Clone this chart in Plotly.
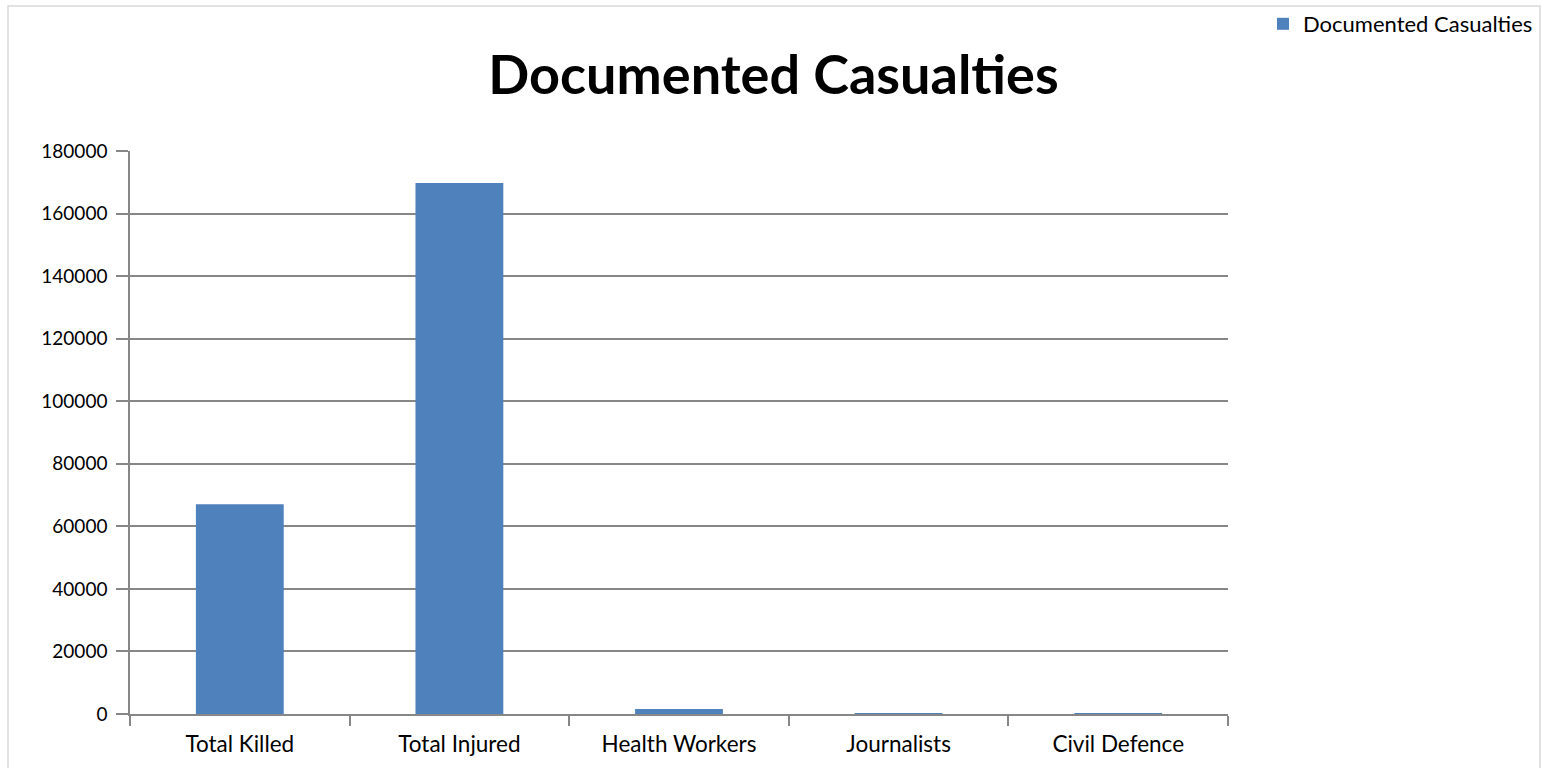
import plotly.graph_objects as go

categories = ["Total Killed", "Total Injured", "Health Workers", "Journalists", "Civil Defence"]
values = [67100, 169800, 1580, 250, 140]
series_name = "Documented Casualties"
y_ticks = [0, 20000, 40000, 60000, 80000, 100000, 120000, 140000, 160000, 180000]

W, H = 1541, 768
L, R, T, B = 130, 1228, 151, 714
pw, ph = R - L, B - T

fig = go.Figure()
fig.add_trace(go.Bar(x=categories, y=values, name=series_name,
                     marker=dict(color="#4F81BD", line=dict(width=0))))

def px_x(p):
    return (p - L) / pw

def px_y(p):
    return (B - p) / ph

FONT = "Lato"
GRAY = "#878787"

fig.update_layout(
    width=W, height=H,
    margin=dict(l=L, r=W - R, t=T, b=H - B),
    paper_bgcolor="white", plot_bgcolor="white",
    font=dict(family=FONT, size=19, color="black"),
    title=dict(text="<b>Documented Casualties</b>", font=dict(family=FONT, size=54, color="black"),
               x=773.5 / W, xref="container", xanchor="center",
               y=1 - 75 / H, yref="container", yanchor="middle"),
    bargap=0.6,
    showlegend=True,
    legend=dict(x=1263 / W, xref="container", xanchor="left",
                y=1 - 3 / H, yref="container", yanchor="top",
                font=dict(family=FONT, size=22, color="black"),
                bgcolor="rgba(0,0,0,0)"),
    xaxis=dict(type="category", tickson="boundaries", ticks="outside", ticklen=10,
               tickwidth=1.5, tickcolor=GRAY, showline=True, linecolor=GRAY, linewidth=1.5,
               showgrid=False, tickfont=dict(family=FONT, size=22.5, color="black"),
               ticklabelstandoff=9, fixedrange=True),
    yaxis=dict(range=[0, 180000], tickvals=y_ticks, ticktext=[str(v) for v in y_ticks],
               ticks="outside", ticklen=12, tickwidth=1.5, tickcolor=GRAY,
               showline=True, linecolor=GRAY, linewidth=1.5,
               showgrid=True, gridcolor=GRAY, gridwidth=1.5, zeroline=False,
               tickfont=dict(family=FONT, size=19, color="black"),
               ticklabelstandoff=5, fixedrange=True),
    shapes=[dict(type="rect", xref="paper", yref="paper",
                 x0=px_x(8), x1=px_x(1540), y0=px_y(775), y1=px_y(6),
                 line=dict(color="#d9d9d9", width=1.5), fillcolor="rgba(0,0,0,0)", layer="below")],
)

fig.write_html("out.html", config={"displayModeBar": False},
               post_script="document.body.style.margin='0';document.body.style.overflow='hidden';")
